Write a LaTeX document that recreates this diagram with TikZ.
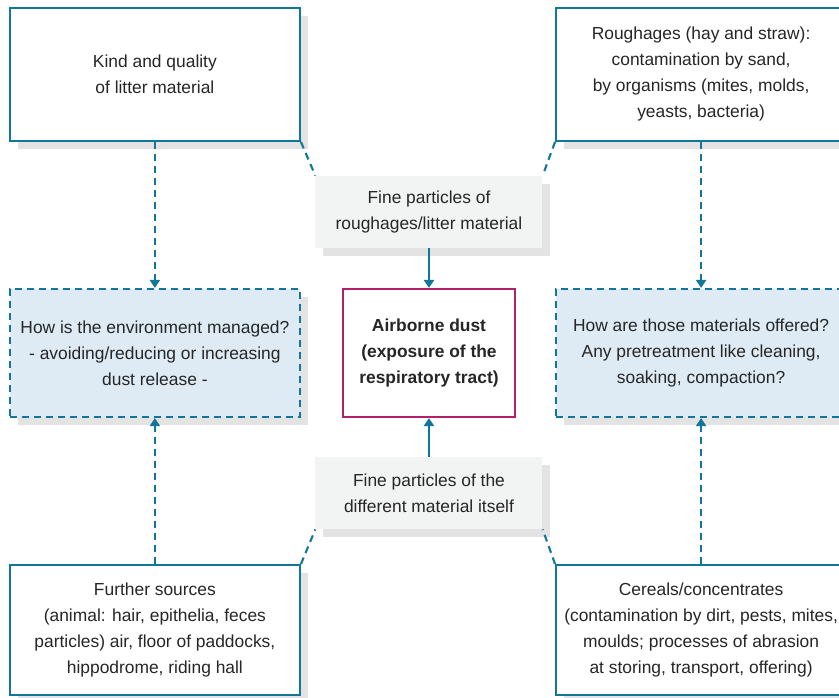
\documentclass[tikz,border=0pt]{standalone}
\usepackage{fontspec}
\setmainfont{Liberation Sans}
\usepackage{tikz}
\usetikzlibrary{arrows.meta,positioning,shadows,calc}
\usepackage{xcolor}
\definecolor{framecol}{RGB}{18,118,154}
\definecolor{paleblue}{RGB}{222,235,245}
\definecolor{palegrey}{RGB}{242,243,243}
\definecolor{plum}{RGB}{178,32,108}
\definecolor{inkgrey}{RGB}{38,38,38}
\newcommand{\boxfont}{\fontsize{17.4}{26}\selectfont}
\tikzset{
  shade8/.style  = {drop shadow={shadow xshift=8pt, shadow yshift=-8pt,
                    fill=black!11, opacity=1}},
  srcbox/.style  = {rectangle, draw=framecol, line width=2.1pt, fill=white,
                    shade8, align=center, text=inkgrey, minimum width=290pt},
  askbox/.style  = {rectangle, draw=framecol, line width=2.1pt, fill=paleblue,
                    dash pattern=on 7pt off 5pt, shade8, align=center,
                    text=inkgrey, minimum width=290pt, minimum height=128pt},
  finebox/.style = {rectangle, fill=palegrey, shade8, align=center,
                    text=inkgrey, minimum width=227pt, minimum height=72pt},
  dustbox/.style = {rectangle, draw=plum, line width=2.1pt, fill=white,
                    align=center, text=inkgrey, font=\boxfont\bfseries,
                    minimum width=172pt, minimum height=128pt},
  arr/.style     = {-{Triangle[length=8pt,width=10pt]}, line width=2.1pt,
                    draw=framecol},
  darr/.style    = {arr, dash pattern=on 7pt off 5pt},
  dline/.style   = {line width=2.1pt, draw=framecol, dash pattern=on 7pt off 5pt},
}

\begin{document}
\begin{tikzpicture}[font=\boxfont]
\useasboundingbox (-429pt,353pt) rectangle ++(839pt,-697pt);

%% centre
\node[dustbox] (dust) at (0,0) {Airborne dust\\(exposure of the\\respiratory tract)};
\node[askbox, left=41pt of dust] (env)
  {How is the environment managed?\\- avoiding/reducing or increasing\\dust release -};
\node[askbox, right=39pt of dust] (offer)
  {How are those materials offered?\\Any pretreatment like cleaning,\\soaking, compaction?};

%% sources
\node[srcbox, minimum height=133pt, above=146pt of env] (litter)
  {Kind and quality\\of litter material};
\node[srcbox, minimum height=133pt, above=146pt of offer] (rough)
  {Roughages (hay and straw):\\contamination by sand,\\by organisms (mites, molds,\\yeasts, bacteria)};
\node[srcbox, minimum height=130pt, below=146pt of env] (further)
  {Further sources\\(animal: hair, epithelia, feces\\particles) air, floor of paddocks,\\hippodrome, riding hall};
\node[srcbox, minimum height=130pt, below=146pt of offer] (cereal)
  {Cereals/concentrates\\(contamination by dirt, pests, mites,\\moulds; processes of abrasion\\at storing, transport, offering)};

%% fine particles
\node[finebox, above=40pt of dust] (fineA) {Fine particles of\\roughages/litter material};
\node[finebox, below=39pt of dust] (fineB) {Fine particles of the\\different material itself};

%% connectors
\draw[darr] (litter) -- (env);
\draw[darr] (further) -- (env);
\draw[darr] (rough) -- (offer);
\draw[darr] (cereal) -- (offer);
\draw[arr] (fineA) -- (dust);
\draw[arr] (fineB) -- (dust);
\draw[dline] (litter.south east) -- (fineA.north west);
\draw[dline] (rough.south west) -- (fineA.north east);
\draw[dline] (further.north east) -- (fineB.south west);
\draw[dline] (cereal.north west) -- (fineB.south east);

\end{tikzpicture}
\end{document}
